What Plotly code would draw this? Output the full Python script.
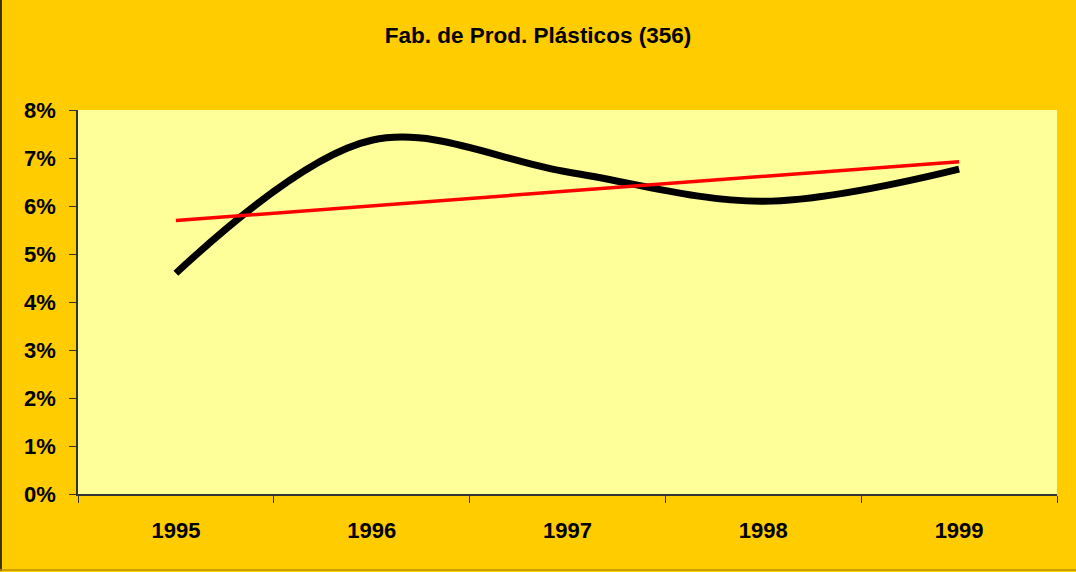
import numpy as np
import plotly.graph_objects as go

years = ["1995", "1996", "1997", "1998", "1999"]
values = [0.0460, 0.0737, 0.0671, 0.0610, 0.0677]

# linear trendline (least squares) of the series, as in the original chart
xi = np.arange(len(values))
slope, intercept = np.polyfit(xi, values, 1)
trend = list(intercept + slope * xi)

font = "Arial, Liberation Sans, sans-serif"

fig = go.Figure()
fig.add_trace(go.Scatter(x=years, y=values, mode="lines",
                         line=dict(color="black", width=7, shape="spline", smoothing=1.0),
                         showlegend=False, hoverinfo="skip"))
fig.add_trace(go.Scatter(x=years, y=trend, mode="lines",
                         line=dict(color="#FF0000", width=3.5),
                         showlegend=False, hoverinfo="skip"))

fig.update_layout(
    width=1076, height=572,
    paper_bgcolor="#FFCC00", plot_bgcolor="#FFFF99",
    margin=dict(l=78, r=19, t=110, b=78),
    title=dict(text="<b>Fab. de Prod. Plásticos (356)</b>", x=0.5, xanchor="center",
               y=1 - 35 / 572, yanchor="middle", yref="container",
               font=dict(family=font, size=22.5, color="black")),
    xaxis=dict(type="category", range=[-0.5, 4.5], tickson="boundaries",
               ticks="outside", ticklen=7, tickcolor="#333333",
               showline=True, linecolor="#333333", linewidth=1.5,
               showgrid=False, zeroline=False,
               ticklabelstandoff=16,
               tickfont=dict(family=font, size=22, color="black", weight="bold")),
    yaxis=dict(range=[0, 0.08], dtick=0.01, tickformat=".0%",
               ticks="outside", ticklen=7, tickcolor="#333333",
               showline=True, linecolor="#333333", linewidth=1.5,
               showgrid=False, zeroline=False,
               ticklabelstandoff=9,
               tickfont=dict(family=font, size=22, color="black", weight="bold")),
    shapes=[
        dict(type="line", xref="paper", yref="paper",
             x0=-77 / 979, x1=-77 / 979, y0=-77 / 384, y1=1 + 110 / 384,
             line=dict(color="black", width=1.5)),
        dict(type="line", xref="paper", yref="paper",
             x0=-78 / 979, x1=1 + 19 / 979, y0=-76 / 384, y1=-76 / 384,
             line=dict(color="#B89400", width=1.5)),
    ],
)

fig.write_html("out.html", config={"displayModeBar": False},
               post_script="document.body.style.margin='0';document.body.style.padding='0';")
